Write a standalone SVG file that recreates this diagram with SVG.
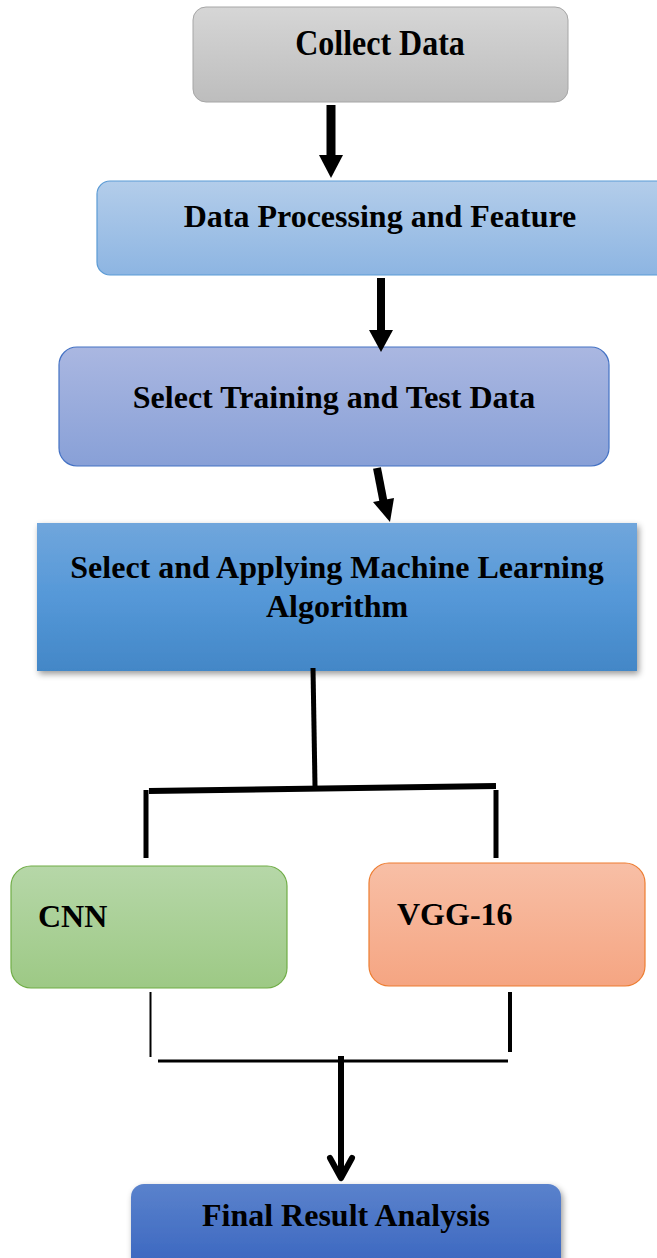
<svg xmlns="http://www.w3.org/2000/svg" width="657" height="1258" viewBox="0 0 657 1258">
<defs>
<style>
.t{font-family:"Liberation Serif","Times New Roman",serif;font-weight:bold;font-size:32px;fill:#000}
.c{text-anchor:middle}
.ln{stroke:#000;fill:none}
</style>
<linearGradient id="gGray" x1="0" y1="0" x2="0" y2="1"><stop offset="0" stop-color="#d6d6d6"/><stop offset="1" stop-color="#bdbdbd"/></linearGradient>
<linearGradient id="gLB" x1="0" y1="0" x2="0" y2="1"><stop offset="0" stop-color="#b3cdea"/><stop offset="1" stop-color="#8db5e2"/></linearGradient>
<linearGradient id="gPB" x1="0" y1="0" x2="0" y2="1"><stop offset="0" stop-color="#aab7e1"/><stop offset="1" stop-color="#88a0d7"/></linearGradient>
<linearGradient id="gMB" x1="0" y1="0" x2="0" y2="1"><stop offset="0" stop-color="#70a6dc"/><stop offset="0.5" stop-color="#5598d8"/><stop offset="1" stop-color="#4387c7"/></linearGradient>
<linearGradient id="gGr" x1="0" y1="0" x2="0" y2="1"><stop offset="0" stop-color="#b6d7a8"/><stop offset="1" stop-color="#9dc985"/></linearGradient>
<linearGradient id="gOr" x1="0" y1="0" x2="0" y2="1"><stop offset="0" stop-color="#f8bfa6"/><stop offset="1" stop-color="#f5a582"/></linearGradient>
<linearGradient id="gDB" x1="0" y1="0" x2="0" y2="1"><stop offset="0" stop-color="#5a82cc"/><stop offset="1" stop-color="#3864bf"/></linearGradient>
<filter id="sh" x="-5%" y="-10%" width="110%" height="125%"><feDropShadow dx="2" dy="3" stdDeviation="3" flood-color="#000" flood-opacity="0.4"/></filter>
</defs>

<g id="collect-data">
<rect x="193" y="7" width="375" height="95" rx="13" fill="url(#gGray)" stroke="#a6a6a6" stroke-width="1"/>
<text class="t c" transform="matrix(1 0 0 1.1 380 55)">Collect Data</text>
</g>

<g id="data-processing">
<rect x="97" y="181" width="575" height="94" rx="13" fill="url(#gLB)" stroke="#5b9bd5" stroke-width="1.2"/>
<text class="t c" x="380" y="227">Data Processing and Feature</text>
</g>

<g id="select-training">
<rect x="59" y="347" width="550" height="119" rx="18" fill="url(#gPB)" stroke="#4472c4" stroke-width="1.2"/>
<text class="t c" x="334" y="408">Select Training and Test Data</text>
</g>

<g id="select-ml">
<rect x="37" y="523" width="600" height="148" fill="url(#gMB)" filter="url(#sh)"/>
<text class="t c" x="337" y="578">Select and Applying Machine Learning</text>
<text class="t c" x="337" y="617">Algorithm</text>
</g>

<g id="cnn">
<rect x="11" y="866" width="276" height="122" rx="20" fill="url(#gGr)" stroke="#70ad47" stroke-width="1.2"/>
<text class="t" x="38" y="927">CNN</text>
</g>

<g id="vgg16">
<rect x="369" y="863" width="276" height="123" rx="20" fill="url(#gOr)" stroke="#ed7d31" stroke-width="1.2"/>
<text class="t" x="397" y="925">VGG-16</text>
</g>

<g id="final-result">
<rect x="131" y="1184" width="430" height="90" rx="13" fill="url(#gDB)" filter="url(#sh)"/>
<text class="t c" x="346" y="1226">Final Result Analysis</text>
</g>

<g id="connectors">
<line class="ln" x1="331" y1="105" x2="331" y2="157" stroke-width="9"/>
<polygon points="319,155 343,155 331,178"/>
<line class="ln" x1="381" y1="278" x2="381" y2="332" stroke-width="8"/>
<polygon points="369,330 393,330 381,352"/>
<line class="ln" x1="377" y1="468" x2="384" y2="504" stroke-width="8"/>
<polygon points="373,502 394,498 390,522"/>
<line class="ln" x1="313" y1="668" x2="315" y2="786" stroke-width="5"/>
<line class="ln" x1="149" y1="791" x2="496" y2="786" stroke-width="6"/>
<line class="ln" x1="146" y1="790" x2="146" y2="858" stroke-width="5"/>
<line class="ln" x1="496" y1="790" x2="496" y2="858" stroke-width="5"/>
<line class="ln" x1="150.5" y1="992" x2="150.5" y2="1057" stroke-width="2"/>
<line class="ln" x1="510" y1="992" x2="510" y2="1052" stroke-width="4"/>
<line class="ln" x1="158" y1="1061" x2="508" y2="1061" stroke-width="3"/>
<line class="ln" x1="341" y1="1056" x2="341" y2="1178" stroke-width="6"/>
<polyline class="ln" points="330,1158 341,1178 352,1158" stroke-width="6" stroke-linecap="round" stroke-linejoin="round"/>
</g>
</svg>
